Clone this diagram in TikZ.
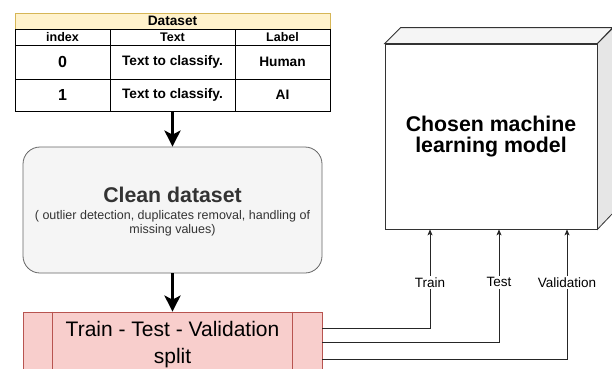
\documentclass[tikz,border=0pt]{standalone}
\usepackage{fontspec}
\setmainfont{Liberation Sans}
\usetikzlibrary{arrows.meta,calc}
\definecolor{hdrfill}{HTML}{FFF2CC}
\definecolor{hdrline}{HTML}{D6B656}
\definecolor{cleanfill}{HTML}{F5F5F5}
\definecolor{cleanline}{HTML}{666666}
\definecolor{cleantext}{HTML}{333333}
\definecolor{splitfill}{HTML}{F8CECC}
\definecolor{splitline}{HTML}{B85450}
\definecolor{topface}{HTML}{F5F5F5}
\definecolor{sideface}{HTML}{E6E6E6}
\tikzset{
  cell/.style={draw=black, line width=0.8pt, fill=white, inner sep=0pt, minimum height=#1, font=\fontsize{13.7}{16}\selectfont\bfseries},
  hcell/.style={draw=black, line width=0.8pt, fill=white, inner sep=0pt, minimum height=16pt, font=\fontsize{12.5}{15}\selectfont\bfseries},
  bigarrow/.style={line width=3pt, -{Stealth[length=16pt,width=16pt,inset=4pt]}},
  conn/.style={line width=0.75pt, draw=black!85, -{Stealth[length=6pt,width=5pt,inset=1.5pt]}},
  connlabel/.style={fill=white, inner sep=1.5pt, font=\fontsize{13.5}{16}\selectfont},
}
\begin{document}
\begin{tikzpicture}[x=1pt,y=-1pt]
\clip (0,0) rectangle (612,368);
\fill[white] (0,0) rectangle (612,368);
% ---------- Dataset table ----------
\node[draw=hdrline, fill=hdrfill, line width=0.8pt, minimum width=315pt, minimum height=16pt, inner sep=0pt, font=\fontsize{13.7}{16}\selectfont\bfseries] (hdr) at (172.5,21) {Dataset};
\node[hcell, minimum width=95pt] (hidx) at (62.5,37) {index};
\node[hcell, minimum width=125pt] (htxt) at (172.5,37) {Text};
\node[hcell, minimum width=95pt] (hlab) at (282.5,37) {Label};
\node[cell=34pt, minimum width=95pt, font=\fontsize{16}{19}\selectfont\bfseries] (r0idx) at (62.5,62) {0};
\node[cell=34pt, minimum width=125pt] (r0txt) at (172.5,62) {Text to classify.};
\node[cell=34pt, minimum width=95pt] (r0lab) at (282.5,62) {Human};
\node[cell=32pt, minimum width=95pt, font=\fontsize{16}{19}\selectfont\bfseries] (r1idx) at (62.5,95) {1};
\node[cell=32pt, minimum width=125pt] (r1txt) at (172.5,95) {Text to classify.};
\node[cell=32pt, minimum width=95pt] (r1lab) at (282.5,95) {AI};
% ---------- Clean dataset ----------
\node[draw=cleanline, fill=cleanfill, line width=0.8pt, rounded corners=17pt, minimum width=299pt, minimum height=126pt, inner sep=0pt] (clean) at (172.5,210) {};
\node[text=cleantext, font=\fontsize{21.3}{25}\selectfont\bfseries, inner sep=0pt] (cleantitle) at (172.5,195) {Clean dataset};
\node[text=cleantext, font=\fontsize{12.5}{14.5}\selectfont, align=center, inner sep=0pt] (cleansub) at (172.5,223.5) {( outlier detection, duplicates removal, handling of\\missing values)};
% ---------- Split ----------
\node[draw=splitline, fill=splitfill, line width=0.8pt, minimum width=299pt, minimum height=60pt, inner sep=0pt] (split) at (172.5,342) {};
\draw[splitline, line width=0.8pt] ($(split.north west)+(30,0)$) -- ($(split.south west)+(30,0)$);
\draw[splitline, line width=0.8pt] ($(split.north east)+(-30,0)$) -- ($(split.south east)+(-30,0)$);
\node[font=\fontsize{21}{27}\selectfont, align=center, inner sep=0pt] (splittext) at (172.5,344.5) {Train - Test - Validation\\split};
% ---------- Cube model ----------
\node[draw=black!80, fill=white, line width=0.8pt, minimum width=212pt, minimum height=185pt, inner sep=0pt] (model) at (491,136.5) {};
\draw[draw=black!80, fill=topface, line width=0.8pt] (model.north west) -- ++(16,-16) -- ++(212,0) -- (model.north east) -- cycle;
\draw[draw=black!80, fill=sideface, line width=0.8pt] (model.north east) -- ++(16,-16) -- ++(0,185) -- (model.south east) -- cycle;
\node[font=\fontsize{21.3}{21.5}\selectfont\bfseries, align=center, inner sep=0pt] (modeltext) at (491,136.5) {Chosen machine\\learning model};
% ---------- Connectors ----------
\draw[bigarrow] (r1txt.south) -- (clean.north);
\draw[bigarrow] (clean.south) -- (split.north);
\draw[conn] ([yshift=14pt]split.east) -| node[connlabel, pos=0.73] (ltrain) {Train} ([xshift=-61pt]model.south);
\draw[conn] (split.east) -| node[connlabel, pos=0.765] (ltest) {Test} ([xshift=8pt]model.south);
\draw[conn] ([yshift=-17pt]split.east) -| node[connlabel, pos=0.796] (lval) {Validation} ([xshift=76pt]model.south);
\end{tikzpicture}
\end{document}
